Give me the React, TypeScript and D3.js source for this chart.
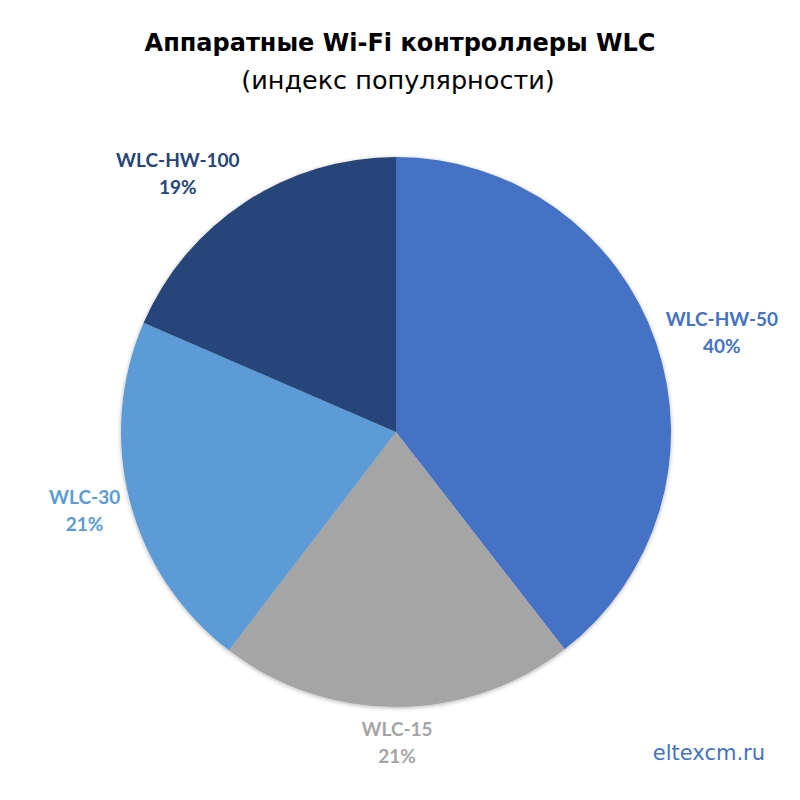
import React, { useEffect, useRef } from 'react';
import * as d3 from 'd3';

// Slice order: clockwise from 12 o'clock
const categories = ['WLC-HW-50', 'WLC-15', 'WLC-30', 'WLC-HW-100'];
const shares = [39.5, 20.9, 21.1, 18.5];
const colors = ['#4472C4', '#A5A5A5', '#5B9BD5', '#264478'];

const titleText = 'Аппаратные Wi-Fi контроллеры WLC';
const subtitleText = '(индекс популярности)';
const watermark = 'eltexcm.ru';

const WIDTH = 800;
const HEIGHT = 800;

const App: React.FC = () => {
  const svgRef = useRef<SVGSVGElement>(null);

  useEffect(() => {
    if (!svgRef.current) return;
    const svg = d3.select(svgRef.current);
    svg.selectAll('*').remove();

    const cx = 396;
    const cy = 432;
    const radius = 275;
    const labelGap = 10;
    const lineHeight = 27;

    // soft shadow around the pie
    const defs = svg.append('defs');
    const filter = defs.append('filter')
      .attr('id', 'pieShadow')
      .attr('x', '-10%').attr('y', '-10%')
      .attr('width', '120%').attr('height', '120%');
    filter.append('feDropShadow')
      .attr('dx', 0).attr('dy', 1)
      .attr('stdDeviation', 2)
      .attr('flood-color', '#000')
      .attr('flood-opacity', 0.3);

    svg.append('rect').attr('width', WIDTH).attr('height', HEIGHT).attr('fill', '#fff');

    // Title
    svg.append('text')
      .attr('x', 400).attr('y', 51)
      .attr('text-anchor', 'middle')
      .attr('font-family', '"DejaVu Sans", sans-serif')
      .attr('font-weight', 700)
      .attr('font-size', 24)
      .attr('fill', '#000')
      .text(titleText);
    svg.append('text')
      .attr('x', 398).attr('y', 89)
      .attr('text-anchor', 'middle')
      .attr('font-family', '"DejaVu Sans", sans-serif')
      .attr('font-size', 25.5)
      .attr('fill', '#000')
      .text(subtitleText);

    const pie = d3.pie<number>().sort(null).value(d => d);
    const arcs = pie(shares);
    const arc = d3.arc<d3.PieArcDatum<number>>().innerRadius(0).outerRadius(radius);

    const g = svg.append('g').attr('transform', `translate(${cx},${cy})`);
    const slices = g.append('g').attr('filter', 'url(#pieShadow)');
    slices.selectAll('path')
      .data(arcs)
      .join('path')
      .attr('d', arc)
      .attr('fill', (_, i) => colors[i]);

    // Labels outside the end of each slice
    arcs.forEach((a, i) => {
      const mid = (a.startAngle + a.endAngle) / 2;
      const sx = Math.sin(mid);
      const sy = -Math.cos(mid);
      const label = g.append('text')
        .attr('text-anchor', 'middle')
        .attr('font-family', 'Lato, "Open Sans", sans-serif')
        .attr('font-weight', 700)
        .attr('font-size', 19)
        .attr('fill', colors[i]);
      label.append('tspan').attr('x', 0).attr('dy', 0).text(categories[i]);
      label.append('tspan').attr('x', 0).attr('dy', lineHeight).text(`${Math.round(shares[i])}%`);

      const box = (label.node() as SVGTextElement).getBBox();
      const w = box.width;
      const h = box.height;
      // push the box fully clear of the rim sideways, proportionally vertically
      const xPush = Math.sign(sx) * Math.min(1, Math.abs(sx) * 2);
      const px = (radius + labelGap) * sx + (w / 2) * xPush;
      const py = (radius + labelGap) * sy + (h / 2) * sy;
      const boxCy = box.y + h / 2;
      label.attr('transform', `translate(${px},${py - boxCy})`);
    });

    svg.append('text')
      .attr('x', 765).attr('y', 760)
      .attr('text-anchor', 'end')
      .attr('font-family', '"DejaVu Sans", sans-serif')
      .attr('font-size', 21)
      .attr('fill', '#4472C4')
      .text(watermark);

    return () => {
      svg.selectAll('*').remove();
    };
  }, []);

  return (
    <svg
      ref={svgRef}
      width={WIDTH}
      height={HEIGHT}
      style={{ position: 'absolute', left: 0, top: 0, display: 'block' }}
    />
  );
};

export default App;
